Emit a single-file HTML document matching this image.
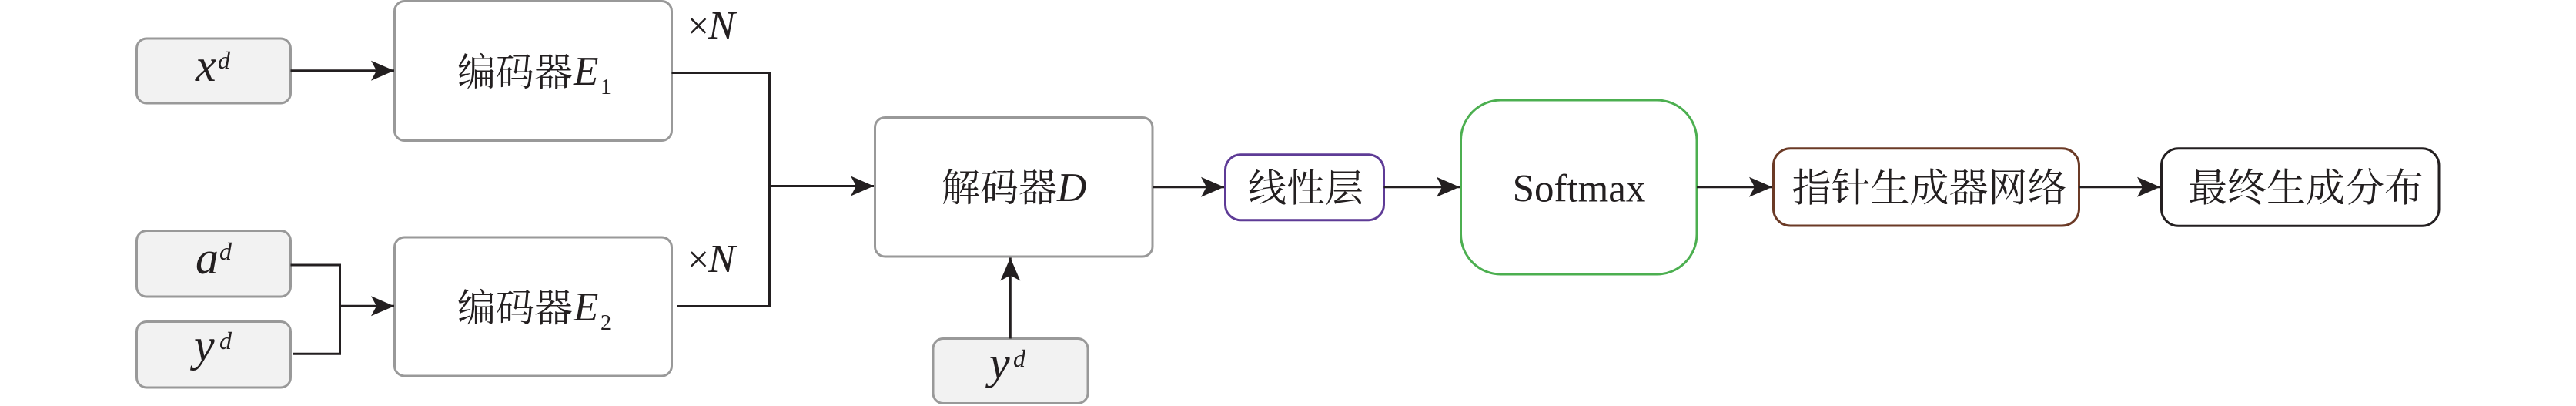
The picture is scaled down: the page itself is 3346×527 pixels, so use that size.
<!DOCTYPE html>
<html>
<head>
<meta charset="utf-8">
<style>
  html, body { margin:0; padding:0; background:#ffffff; }
  body { width:3346px; height:527px; overflow:hidden; }
  svg { display:block; }
  .cjk { font-family: "Liberation Serif", "Noto Serif CJK SC", "Noto Sans CJK SC", serif; font-size:50px; fill:#231f20; }
  .lat { font-family: "Liberation Serif", serif; fill:#231f20; }
  .it  { font-family: "Liberation Serif", serif; font-style:italic; fill:#231f20; }
  .ln  { stroke:#231f20; stroke-width:3; fill:none; }
</style>
</head>
<body>
<svg width="3346" height="527" viewBox="0 0 3346 527" xmlns="http://www.w3.org/2000/svg">
  <defs>
    <marker id="ah" markerWidth="32" markerHeight="28" refX="30" refY="14" orient="auto" markerUnits="userSpaceOnUse">
      <path d="M0,1 L30,14 L0,27 L7,14 Z" fill="#231f20"/>
    </marker>
  </defs>

  <!-- Input boxes -->
  <rect x="177.5" y="50" width="200" height="84" rx="13" fill="#f2f2f2" stroke="#999999" stroke-width="3"/>
  <rect x="177.5" y="299.5" width="200" height="85.5" rx="13" fill="#f2f2f2" stroke="#999999" stroke-width="3"/>
  <rect x="177.5" y="417.5" width="200" height="85.5" rx="13" fill="#f2f2f2" stroke="#999999" stroke-width="3"/>

  <text x="254" y="105" class="it" font-size="60">x</text>
  <text x="283" y="89" class="it" font-size="32">d</text>

  <text x="254" y="355" class="it" font-size="60">a</text>
  <text x="285" y="337" class="it" font-size="32">d</text>

  <text x="252" y="468" class="it" font-size="60">y</text>
  <text x="285" y="453" class="it" font-size="32">d</text>

  <!-- Encoders -->
  <rect x="512.5" y="1.5" width="360" height="181" rx="13" fill="#ffffff" stroke="#999999" stroke-width="3"/>
  <rect x="512.5" y="308" width="360" height="180" rx="13" fill="#ffffff" stroke="#999999" stroke-width="3"/>

  <text x="594" y="111" class="cjk">编码器</text>
  <text x="745" y="110" class="it" font-size="53">E</text>
  <text x="780" y="122" class="lat" font-size="28">1</text>

  <text x="594" y="417" class="cjk">编码器</text>
  <text x="745" y="416" class="it" font-size="53">E</text>
  <text x="780" y="428" class="lat" font-size="28">2</text>

  <!-- xN labels -->
  <text x="893" y="50" class="lat" font-size="50">×</text>
  <text x="920" y="50" class="it" font-size="52">N</text>
  <text x="893" y="353" class="lat" font-size="50">×</text>
  <text x="920" y="353" class="it" font-size="52">N</text>

  <!-- Left connectors -->
  <line x1="377.5" y1="91.7" x2="512" y2="91.7" class="ln" marker-end="url(#ah)"/>
  <polyline points="377.5,344 441.5,344 441.5,459.3 381,459.3" class="ln"/>
  <line x1="441.5" y1="397.3" x2="512" y2="397.3" class="ln" marker-end="url(#ah)"/>

  <!-- Encoder outputs merge -->
  <polyline points="872.5,94.5 999.5,94.5 999.5,397.5 880,397.5" class="ln"/>
  <line x1="999.5" y1="241.5" x2="1135" y2="241.5" class="ln" marker-end="url(#ah)"/>

  <!-- Decoder -->
  <rect x="1136.5" y="152.5" width="360.5" height="180.5" rx="13" fill="#ffffff" stroke="#999999" stroke-width="3"/>
  <text x="1223" y="261" class="cjk">解码器</text>
  <text x="1373" y="261" class="it" font-size="53">D</text>

  <!-- bottom y^d -->
  <rect x="1212" y="439.5" width="201" height="84" rx="13" fill="#f2f2f2" stroke="#999999" stroke-width="3"/>
  <text x="1285" y="491" class="it" font-size="60">y</text>
  <text x="1316" y="476" class="it" font-size="32">d</text>
  <line x1="1312.3" y1="439.5" x2="1312.3" y2="334.5" class="ln" marker-end="url(#ah)"/>

  <!-- Decoder -> Linear -->
  <line x1="1497" y1="242.7" x2="1590" y2="242.7" class="ln" marker-end="url(#ah)"/>
  <rect x="1591.5" y="200.7" width="206" height="85" rx="20" fill="#ffffff" stroke="#5e3b96" stroke-width="3"/>
  <text x="1696" y="261.5" class="cjk" text-anchor="middle">线性层</text>

  <!-- Linear -> Softmax -->
  <line x1="1797.5" y1="242.7" x2="1896" y2="242.7" class="ln" marker-end="url(#ah)"/>
  <rect x="1897.5" y="130" width="306.5" height="226" rx="52" fill="#ffffff" stroke="#4caf50" stroke-width="3"/>
  <text x="2051" y="261.5" class="lat" font-size="51" text-anchor="middle">Softmax</text>

  <!-- Softmax -> Pointer -->
  <line x1="2204" y1="242.7" x2="2302" y2="242.7" class="ln" marker-end="url(#ah)"/>
  <rect x="2303.5" y="192.7" width="397" height="100.3" rx="22" fill="#ffffff" stroke="#6b3a26" stroke-width="3"/>
  <text x="2506" y="261.5" class="cjk" text-anchor="middle" style="font-size:51px">指针生成器网络</text>

  <!-- Pointer -> Final -->
  <line x1="2700.5" y1="242.7" x2="2806" y2="242.7" class="ln" marker-end="url(#ah)"/>
  <rect x="2807.5" y="192.7" width="360.5" height="100.6" rx="22" fill="#ffffff" stroke="#231f20" stroke-width="3"/>
  <text x="2995" y="261.5" class="cjk" text-anchor="middle" style="font-size:51px">最终生成分布</text>
</svg>
</body>
</html>
